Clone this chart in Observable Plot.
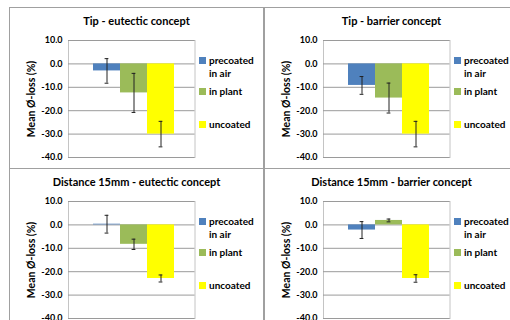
<!DOCTYPE html>
<html><head><meta charset="utf-8">
<script src="https://cdn.jsdelivr.net/npm/d3@7"></script>
<script src="https://cdn.jsdelivr.net/npm/@observablehq/plot@0.6"></script>
<style>
body{margin:0;background:#fff;}
#root{position:relative;width:510px;height:320px;overflow:hidden;font-family:Lato,"Open Sans",sans-serif;color:#000;}
.panel{position:absolute;border:1px solid #a0a0a0;box-sizing:border-box;}
.title{position:absolute;font-weight:bold;font-size:11px;text-align:center;width:253px;line-height:14px;white-space:nowrap;}
.leg{position:absolute;font-weight:bold;font-size:10px;line-height:13px;white-space:nowrap;}
.sw{position:absolute;width:7px;height:7px;}
.chart{position:absolute;}
</style></head><body><div id="root"></div>
<script>
const panelTitles = ["Tip - eutectic concept", "Tip - barrier concept", "Distance 15mm - eutectic concept", "Distance 15mm - barrier concept"];
const seriesNames = ["precoated in air", "in plant", "uncoated"];
const legendLines = [["precoated", "in air"], ["in plant"], ["uncoated"]];
const seriesColors = ["#4F81BD", "#9BBB59", "#FFFF00"];
const precoatedMean = [-3.0, -9.2, 0.3, -2.2];
const precoatedErr = [5.25, 3.8, 3.8, 3.6];
const inPlantMean = [-12.4, -14.6, -8.3, 1.9];
const inPlantErr = [8.35, 6.4, 2.2, 0.6];
const uncoatedMean = [-30.0, -30.0, -22.9, -22.9];
const uncoatedErr = [5.45, 5.45, 1.5, 1.6];
const yTicks = [10, 0, -10, -20, -30, -40];
const yLabel = "Mean Ø-loss (%)";

const means = [precoatedMean, inPlantMean, uncoatedMean];
const errs = [precoatedErr, inPlantErr, uncoatedErr];
const origins = [[10, 7], [265, 7], [10, 168], [265, 168]];
const legendRows = [[53, 66], [84], [117]];
const root = document.getElementById("root");
const font = "Lato, 'Open Sans', sans-serif";

origins.forEach(([ox, oy], i) => {
  const p = document.createElement("div");
  p.className = "panel";
  Object.assign(p.style, {left: (ox - 1) + "px", top: oy + "px", width: "255px", height: "162px"});
  root.appendChild(p);

  const data = seriesNames.map((s, k) => ({series: s, mean: means[k][i], err: errs[k][i]}));
  const chart = Plot.plot({
    width: 253, height: 161,
    marginLeft: 58, marginRight: 68.5, marginTop: 33, marginBottom: 11,
    style: {fontFamily: font, fontSize: "9px", fontWeight: "bold", background: "transparent", overflow: "visible", color: "#000"},
    x: {domain: seriesNames, paddingInner: 0, paddingOuter: 0.82, align: 0.54, axis: null},
    y: {domain: [-40, 10], axis: null},
    color: {domain: seriesNames, range: seriesColors},
    marks: [
      Plot.frame({stroke: "#c4c4c4"}),
      Plot.gridY(yTicks, {stroke: "#9a9a9a", strokeOpacity: 1}),
      Plot.barY(data, {x: "series", y: "mean", fill: "series"}),
      Plot.ruleX(data, {x: "series", y1: d => d.mean - d.err, y2: d => d.mean + d.err, stroke: "#222", strokeWidth: 1}),
      Plot.tickY(data, {x: "series", y: d => d.mean + d.err, insetLeft: 11.6, insetRight: 11.6, stroke: "#222"}),
      Plot.tickY(data, {x: "series", y: d => d.mean - d.err, insetLeft: 11.6, insetRight: 11.6, stroke: "#222"}),
      Plot.axisY(yTicks, {tickSize: 0, tickPadding: 6, tickFormat: d => d.toFixed(1), fontWeight: "bold", label: null}),
      Plot.axisY(yTicks, {tickSize: 0, text: null, fontSize: 10.5, fontWeight: "bold",
        label: yLabel, labelAnchor: "center", labelArrow: "none", labelOffset: 41})
    ]
  });
  chart.classList.add("chart");
  Object.assign(chart.style, {left: ox + "px", top: oy + "px"});
  root.appendChild(chart);

  const t = document.createElement("div");
  t.className = "title";
  t.textContent = panelTitles[i];
  Object.assign(t.style, {left: ox + "px", top: (oy + 7) + "px"});
  root.appendChild(t);

  legendLines.forEach((lines, k) => {
    const sw = document.createElement("div");
    sw.className = "sw";
    Object.assign(sw.style, {left: (ox + 189) + "px", top: (oy + legendRows[k][0] - 3.5) + "px", background: seriesColors[k]});
    root.appendChild(sw);
    lines.forEach((line, j) => {
      const d = document.createElement("div");
      d.className = "leg";
      d.textContent = line;
      Object.assign(d.style, {left: (ox + 199) + "px", top: (oy + legendRows[k][j] - 6.5) + "px"});
      root.appendChild(d);
    });
  });
});
</script>
</body></html>
